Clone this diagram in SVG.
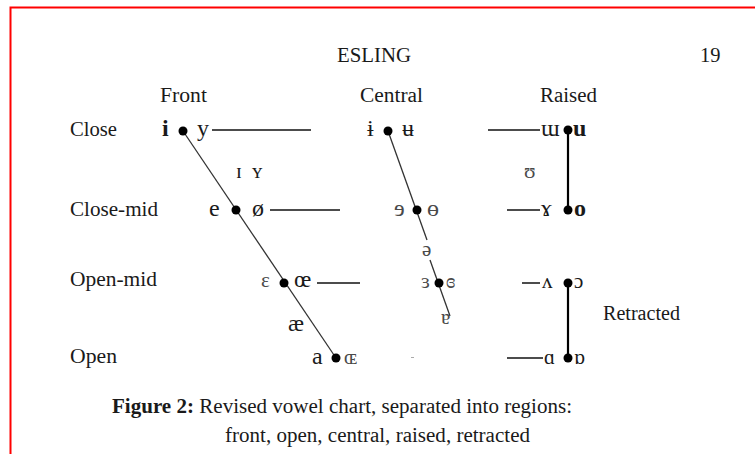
<svg xmlns="http://www.w3.org/2000/svg" width="755" height="454" viewBox="0 0 755 454">
<style>
text{font-family:"Liberation Serif","DejaVu Serif",serif;fill:#1a1a1a}
.lab{font-size:20.5px}
.ipa{font-size:24px}
.md{font-size:21px}
.lt{fill:#4a4a4a}
.dot{fill:#000}
.diag{stroke:#333;stroke-width:1.3;fill:none}
.hz{stroke:#111;stroke-width:1.5;fill:none}
.vt{stroke:#000;stroke-width:2.2;fill:none}
</style>
<rect x="0" y="0" width="755" height="454" fill="#fff"/>
<path d="M10.5 454 V7.5 H755" fill="none" stroke="#f00" stroke-width="2"/>
<g id="header">
<text class="lab" x="337" y="62" textLength="74" lengthAdjust="spacingAndGlyphs">ESLING</text>
<text class="lab" x="700" y="62">19</text>
</g>
<g id="col-labels">
<text class="lab" x="160" y="102" textLength="47" lengthAdjust="spacingAndGlyphs">Front</text>
<text class="lab" x="360" y="102" textLength="63" lengthAdjust="spacingAndGlyphs">Central</text>
<text class="lab" x="540" y="102" textLength="57" lengthAdjust="spacingAndGlyphs">Raised</text>
</g>
<g id="row-labels">
<text class="lab" x="70" y="136" textLength="47" lengthAdjust="spacingAndGlyphs">Close</text>
<text class="lab" x="70" y="216" textLength="88" lengthAdjust="spacingAndGlyphs">Close-mid</text>
<text class="lab" x="70" y="286" textLength="87" lengthAdjust="spacingAndGlyphs">Open-mid</text>
<text class="lab" x="70" y="363" textLength="47" lengthAdjust="spacingAndGlyphs">Open</text>
</g>
<g id="connectors">
<line class="diag" x1="183" y1="131" x2="336" y2="358"/>
<line class="diag" x1="388" y1="131" x2="427" y2="240"/>
<line class="diag" x1="430" y1="260" x2="450" y2="316"/>
<line class="hz" x1="212" y1="130" x2="311" y2="130"/>
<line class="hz" x1="270" y1="210" x2="340" y2="210"/>
<line class="hz" x1="317" y1="283" x2="360" y2="283"/>
<line class="hz" x1="488" y1="130" x2="540" y2="130"/>
<line class="hz" x1="507" y1="210" x2="540" y2="210"/>
<line class="hz" x1="522" y1="283" x2="540" y2="283"/>
<line class="hz" x1="507" y1="358" x2="543" y2="358"/>
<line class="vt" x1="568" y1="130" x2="568" y2="210"/>
<line class="vt" x1="568" y1="283" x2="568" y2="358"/>
<line x1="411" y1="357.5" x2="414" y2="357.5" stroke="#aaa" stroke-width="1"/>
</g>
<g id="front-close">
<text class="ipa" x="162" y="136" font-weight="bold">i</text>
<circle class="dot" cx="183" cy="131" r="4.5"/>
<text class="ipa" x="197" y="136">y</text>
</g>
<g id="front-near-close">
<text class="ipa md" x="236" y="178">ɪ</text>
<text class="ipa md" x="252" y="178">ʏ</text>
</g>
<g id="front-close-mid">
<text class="ipa" x="209" y="216">e</text>
<circle class="dot" cx="236" cy="210" r="4.5"/>
<text class="ipa" x="252" y="216">ø</text>
</g>
<g id="front-open-mid">
<text class="ipa md lt" x="261" y="287">ɛ</text>
<circle class="dot" cx="284" cy="283" r="4.5"/>
<text class="ipa" x="294" y="287">œ</text>
</g>
<g id="front-near-open">
<text class="ipa" x="288" y="331">æ</text>
</g>
<g id="front-open">
<text class="ipa" x="312" y="364">a</text>
<circle class="dot" cx="336" cy="358" r="4.5"/>
<text class="ipa md lt" x="344" y="364">ɶ</text>
</g>
<g id="central-close">
<text class="ipa" x="367" y="136">ɨ</text>
<circle class="dot" cx="388" cy="131" r="4.5"/>
<text class="ipa" x="402" y="136">ʉ</text>
</g>
<g id="central-close-mid">
<text class="ipa lt" x="394" y="216">ɘ</text>
<circle class="dot" cx="417" cy="210" r="4.5"/>
<text class="ipa lt" x="427" y="216">ɵ</text>
</g>
<g id="central-mid">
<text class="ipa md lt" x="422" y="256">ə</text>
</g>
<g id="central-open-mid">
<text class="ipa md lt" x="421" y="288">ɜ</text>
<circle class="dot" cx="439" cy="283" r="4.5"/>
<text class="ipa md lt" x="446" y="288">ɞ</text>
</g>
<g id="central-near-open">
<text class="ipa md lt" x="441" y="324">ɐ</text>
</g>
<g id="raised-close">
<text class="ipa" x="541" y="136">ɯ</text>
<circle class="dot" cx="568" cy="130" r="4.5"/>
<text class="ipa" x="573" y="136" font-weight="bold">u</text>
</g>
<g id="raised-near-close">
<text class="ipa md lt" x="524" y="178">ʊ</text>
</g>
<g id="raised-close-mid">
<text class="ipa" x="541" y="216">ɤ</text>
<circle class="dot" cx="568" cy="210" r="4.5"/>
<text class="ipa" x="574" y="216" font-weight="bold">o</text>
</g>
<g id="retracted-open-mid">
<text class="ipa md" x="542" y="288">ʌ</text>
<circle class="dot" cx="568" cy="283" r="4.5"/>
<text class="ipa md" x="574" y="288">ɔ</text>
</g>
<g id="retracted-open">
<text class="ipa md" x="544" y="364">ɑ</text>
<circle class="dot" cx="568" cy="358" r="4.5"/>
<text class="ipa md" x="574" y="364">ɒ</text>
</g>
<g id="retracted-label">
<text class="lab" x="603" y="320" textLength="77" lengthAdjust="spacingAndGlyphs">Retracted</text>
</g>
<g id="caption">
<text x="112" y="413" font-size="20" textLength="460" lengthAdjust="spacingAndGlyphs"><tspan font-weight="bold">Figure 2:</tspan> Revised vowel chart, separated into regions:</text>
<text x="225" y="442" font-size="20" textLength="305" lengthAdjust="spacingAndGlyphs">front, open, central, raised, retracted</text>
</g>
</svg>
